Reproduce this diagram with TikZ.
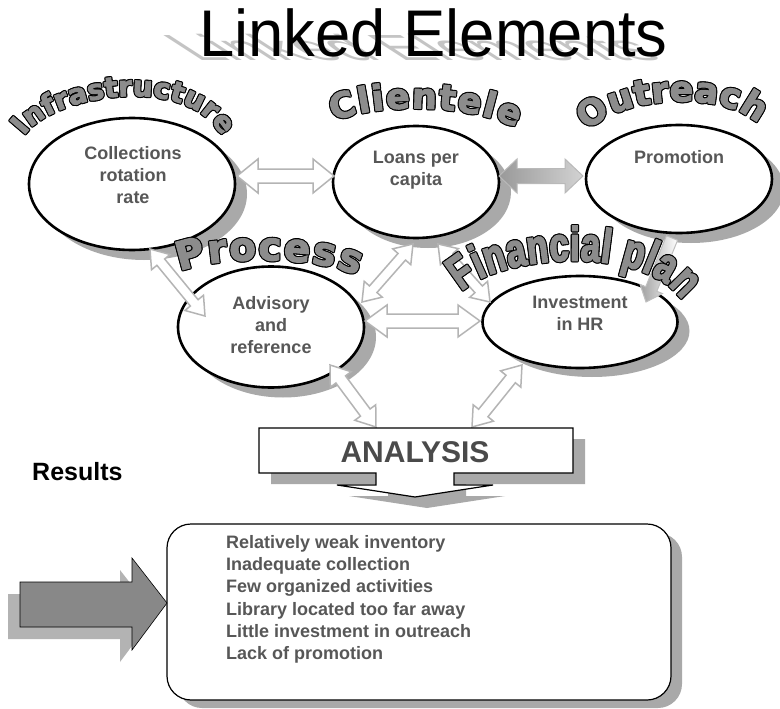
\documentclass[tikz,border=0pt]{standalone}
\usepackage{fontspec}
\setmainfont{Liberation Sans}
\newfontfamily\titlefont{Liberation Sans}[FakeStretch=0.96]
\newfontfamily\wafont{DejaVu Sans}[BoldFeatures={FakeBold=3}]
\newfontfamily\wbfont{Liberation Sans}[FakeStretch=0.72,BoldFeatures={FakeBold=3}]
\usetikzlibrary{calc,decorations.text,shapes.geometric}

\definecolor{shadowgray}{HTML}{A9A9A9}
\definecolor{wagray}{HTML}{8C8C8C}
\definecolor{textgray}{HTML}{575757}
\definecolor{arrowgray}{HTML}{B4B4B4}
\definecolor{bigarrow}{HTML}{888888}
\definecolor{bigshadow}{HTML}{B3B3B3}
\definecolor{titleshadow}{HTML}{C4C4C4}

\newcommand\fInfra{\wafont\bfseries\fontsize{28pt}{28pt}\selectfont}
\newcommand\fClient{\wafont\bfseries\fontsize{35pt}{35pt}\selectfont}
\newcommand\fOut{\wafont\bfseries\fontsize{35pt}{35pt}\selectfont}
\newcommand\fProc{\wafont\bfseries\fontsize{39pt}{39pt}\selectfont}
\newcommand\fFin{\wbfont\bfseries\fontsize{48pt}{48pt}\selectfont}

\newcommand\wordart[3]{%
  \foreach \dx/\dy in {1.1/0,-1.1/0,0/1.1,0/-1.1,0.8/0.8,-0.8/0.8,0.8/-0.8,-0.8/-0.8}{%
    \path[shift={(\dx,\dy)},decorate,decoration={text along path,text={|#1|#3},text align={fit to path},text color=black}] #2;}%
  \path[decorate,decoration={text along path,text={|#1|#3},text align={fit to path},text color=wagray}] #2;}

\newcommand\dblarrow[6][]{%
  \draw[#1] (#2)
   -- ($($(#2)!#6!(#3)$)!#5!90:(#3)$)
   -- ($($(#2)!#6!(#3)$)!#4!90:(#3)$)
   -- ($($(#3)!#6!(#2)$)!#4!-90:(#2)$)
   -- ($($(#3)!#6!(#2)$)!#5!-90:(#2)$)
   -- (#3)
   -- ($($(#3)!#6!(#2)$)!#5!90:(#2)$)
   -- ($($(#3)!#6!(#2)$)!#4!90:(#2)$)
   -- ($($(#2)!#6!(#3)$)!#4!-90:(#3)$)
   -- ($($(#2)!#6!(#3)$)!#5!-90:(#3)$)
   -- cycle;}

\newcommand\sglarrow[6][]{%
  \draw[#1] ($(#2)!#4!90:(#3)$)
   -- ($($(#3)!#6!(#2)$)!#4!-90:(#2)$)
   -- ($($(#3)!#6!(#2)$)!#5!-90:(#2)$)
   -- (#3)
   -- ($($(#3)!#6!(#2)$)!#5!90:(#2)$)
   -- ($($(#3)!#6!(#2)$)!#4!90:(#2)$)
   -- ($(#2)!#4!-90:(#3)$)
   -- cycle;}

\tikzset{
  ell/.style={ellipse, draw=black, line width=2.6pt, fill=white, inner sep=0pt},
  ellsh/.style={ellipse, fill=shadowgray, inner sep=0pt},
  etext/.style={font=\bfseries\fontsize{18pt}{22pt}\selectfont, text=textgray, inner sep=0pt, anchor=base},
  rtext/.style={font=\bfseries\fontsize{18pt}{22pt}\selectfont, text=textgray, inner sep=0pt, anchor=base west},
  lightarrow/.style={draw=arrowgray, line width=1.5pt, fill=white, line join=miter},
  gradarrow/.style={draw=gray!55, line width=1pt, left color=gray!80, right color=gray!35},
  smallgrad/.style={draw=gray!50, line width=1pt, left color=gray!75, right color=white}
}

\begin{document}
\begin{tikzpicture}[x=1pt,y=-1pt]
\useasboundingbox (0,0) rectangle (780,709);
\fill[white] (0,0) rectangle (780,709);

% ---------- title ----------
\begin{scope}[shift={(431,61)}, yscale=0.55, xslant=-0.85]
  \node[transform shape, anchor=base, inner sep=0pt, text=titleshadow,
        font=\titlefont\fontsize{66pt}{66pt}\selectfont] (titlesh) at (0,0) {Linked Elements};
\end{scope}
\node[anchor=base, inner sep=0pt, font=\titlefont\fontsize{66pt}{66pt}\selectfont] (title) at (433.5,57) {Linked Elements};

% ---------- ellipse shadows ----------
\node[ellsh, minimum width=206pt, minimum height=132pt] (infrash) at (144,194) {};
\node[ellsh, minimum width=166pt, minimum height=112pt] (clientsh) at (428,192) {};
\node[ellsh, minimum width=186pt, minimum height=108pt] (outsh) at (691,189) {};
\node[ellsh, minimum width=186pt, minimum height=121pt] (advsh) at (283,337) {};
\node[ellsh, minimum width=195pt, minimum height=92pt] (invsh) at (592,331) {};

% ---------- ellipses ----------
\node[ell, minimum width=206pt, minimum height=132pt] (infra) at (132,184) {};
\node[ell, minimum width=166pt, minimum height=112pt] (client) at (416,182) {};
\node[ell, minimum width=186pt, minimum height=108pt] (outreach) at (679,179) {};
\node[ell, minimum width=186pt, minimum height=121pt] (advisory) at (271,327) {};
\node[ell, minimum width=195pt, minimum height=92pt] (invest) at (580,322) {};

% ---------- ellipse texts ----------
\node[etext] (t1a) at (133,159) {Collections};
\node[etext] (t1b) at (133,181) {rotation};
\node[etext] (t1c) at (133,203) {rate};
\node[etext] (t2a) at (416,163) {Loans per};
\node[etext] (t2b) at (416,185) {capita};
\node[etext] (t3a) at (679,163) {Promotion};
\node[etext] (t4a) at (271,309) {Advisory};
\node[etext] (t4b) at (271,331) {and};
\node[etext] (t4c) at (271,353) {reference};
\node[etext] (t5a) at (580,308) {Investment};
\node[etext] (t5b) at (580,330) {in HR};

% ---------- arrow end points ----------
\coordinate (a1s) at (237,176);  \coordinate (a1e) at (334,176);
\coordinate (a2s) at (499,176);  \coordinate (a2e) at (583,176);
\coordinate (a3s) at (150,249);  \coordinate (a3e) at (205,316);
\coordinate (a4s) at (413,244);  \coordinate (a4e) at (362,302);
\coordinate (a5s) at (438,244);  \coordinate (a5e) at (490,302);
\coordinate (a6s) at (365,321);  \coordinate (a6e) at (480,321);
\coordinate (a7s) at (330,365);  \coordinate (a7e) at (376,427);
\coordinate (a8s) at (472,427);  \coordinate (a8e) at (522,365);
\coordinate (a9s) at (672,238);  \coordinate (a9e) at (646,302);

% ---------- arrows ----------
\dblarrow[lightarrow]{a1s}{a1e}{7pt}{17pt}{21pt}
\dblarrow[gradarrow]{a2s}{a2e}{7.5pt}{17pt}{18pt}
\dblarrow[lightarrow]{a3s}{a3e}{5pt}{12pt}{17pt}
\dblarrow[lightarrow]{a4s}{a4e}{5pt}{12pt}{17pt}
\dblarrow[lightarrow]{a5s}{a5e}{5pt}{12pt}{17pt}
\dblarrow[lightarrow]{a6s}{a6e}{7pt}{16pt}{22pt}
\dblarrow[lightarrow]{a7s}{a7e}{6pt}{13pt}{18pt}
\dblarrow[lightarrow]{a8s}{a8e}{6pt}{13pt}{18pt}
\sglarrow[smallgrad]{a9s}{a9e}{6pt}{12pt}{14pt}

% ---------- word art labels ----------
\wordart{\fInfra}{(24,136) .. controls (50,96) and (178,74) .. (217,129)}{Infrastructure}
\wordart{\fClient}{(334,122) .. controls (370,103) and (470,103) .. (516,128)}{Clientele}
\wordart{\fOut}{(588,132) .. controls (613,98) and (722,88) .. (758,124)}{Outreach}
\wordart{\fProc}{(180,272) .. controls (208,256) and (320,255) .. (357,276)}{Process}
\wordart{\fFin}{(462,292) .. controls (490,258) and (640,240) .. (682,300)}{Financial plan}

% ---------- analysis box ----------
\fill[shadowgray, shift={(12,11)}] (259,428) -- (573,428) -- (573,473) -- (454,473) -- (454,485)
  -- (493,485) -- (415,497) -- (337,485) -- (376,485) -- (376,473) -- (259,473) -- cycle;
\draw[line width=1.2pt, fill=white] (259,428) -- (573,428) -- (573,473) -- (454,473) -- (454,485)
  -- (493,485) -- (415,497) -- (337,485) -- (376,485) -- (376,473) -- (259,473) -- cycle;
\node[anchor=base, inner sep=0pt, font=\bfseries\fontsize{30pt}{30pt}\selectfont, text=textgray!85!black] (analysis) at (415,462) {ANALYSIS};

% ---------- results ----------
\node[anchor=base west, inner sep=0pt, font=\bfseries\fontsize{25pt}{25pt}\selectfont] (results) at (32,480) {Results};

\fill[shadowgray, rounded corners=24pt] (178,533) rectangle (682,708);
\draw[line width=1.2pt, fill=white, rounded corners=24pt] (167,524) rectangle (671,700);
\node[rtext] (r1) at (226,548.5) {Relatively weak inventory};
\node[rtext] (r2) at (226,570.7) {Inadequate collection};
\node[rtext] (r3) at (226,592.9) {Few organized activities};
\node[rtext] (r4) at (226,615.1) {Library located too far away};
\node[rtext] (r5) at (226,637.3) {Little investment in outreach};
\node[rtext] (r6) at (226,659.5) {Lack of promotion};

% ---------- big left arrow ----------
\fill[bigshadow, shift={(-12,12)}] (20,582) -- (132,582) -- (132,558) -- (167,603) -- (132,650) -- (132,627) -- (20,627) -- cycle;
\draw[line width=0.6pt, fill=bigarrow] (20,582) -- (132,582) -- (132,558) -- (167,603) -- (132,650) -- (132,627) -- (20,627) -- cycle;
\end{tikzpicture}
\end{document}
